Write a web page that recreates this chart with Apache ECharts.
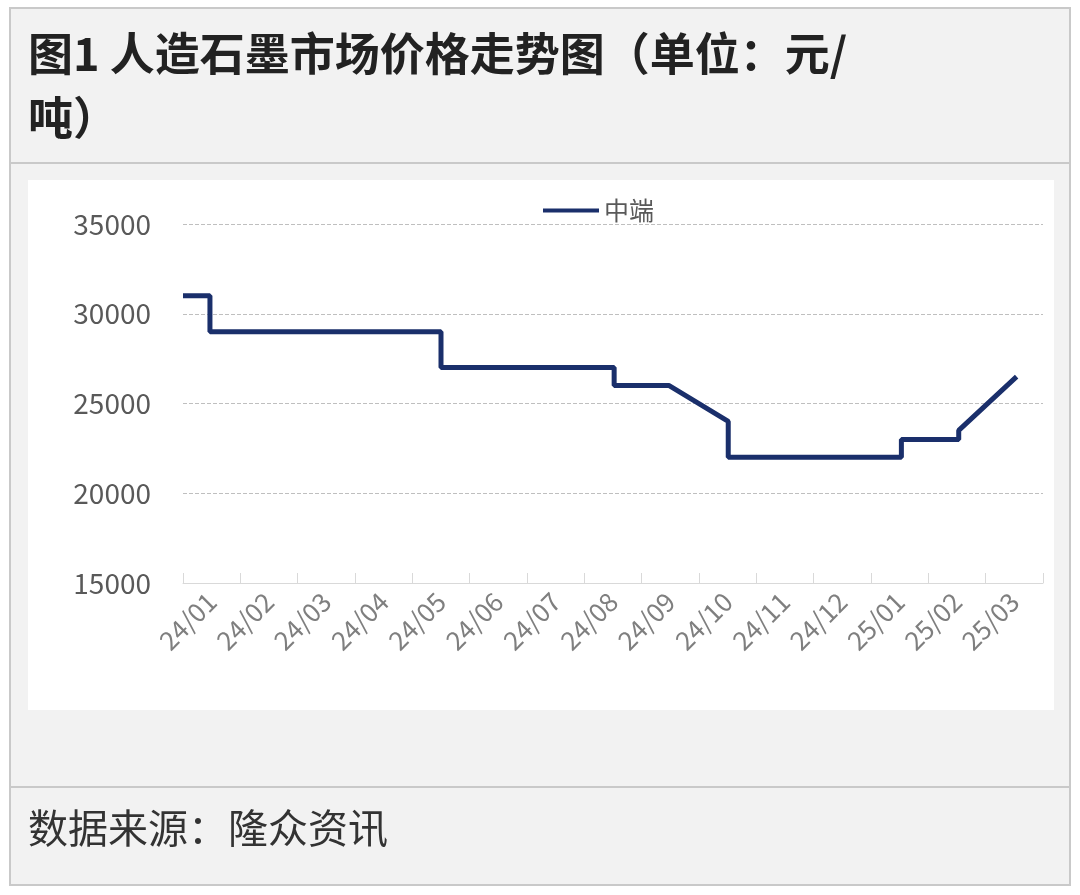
<!DOCTYPE html>
<html><head><meta charset="utf-8">
<script src="https://cdn.jsdelivr.net/npm/echarts@6/dist/echarts.min.js"></script>
<style>html,body{margin:0;padding:0;background:#fff}#c{width:1080px;height:895px}</style>
</head><body><div id="c"></div>
<script>
const monthLabels = ['24/01','24/02','24/03','24/04','24/05','24/06','24/07','24/08','24/09','24/10','24/11','24/12','25/01','25/02','25/03'];
// [month position, price]
const midPrice = [
 [0,31000],[0.47,31000],[0.47,29000],[4.5,29000],[4.5,27000],[7.52,27000],[7.52,26000],
 [8.48,26000],[9.51,24000],[9.51,22000],[12.53,22000],[12.53,23000],[13.53,23000],[13.53,23500],[14.54,26500]
];
const yTicks = [15000,35000,5000];
const chart = echarts.init(document.getElementById('c'));
const F = '"Noto Sans CJK SC","Noto Sans",sans-serif';
chart.setOption({
  animation:false,
  graphic:[
    {type:'rect',z:-10,shape:{x:10,y:8,width:1060,height:877},style:{fill:'#f2f2f2',stroke:'#c9c9c9',lineWidth:2}},
    {type:'line',z:-9,shape:{x1:10,y1:163,x2:1070,y2:163},style:{stroke:'#c9c9c9',lineWidth:2}},
    {type:'line',z:-9,shape:{x1:10,y1:787,x2:1070,y2:787},style:{stroke:'#c9c9c9',lineWidth:2}},
    {type:'rect',z:-8,shape:{x:28,y:180,width:1026,height:530},style:{fill:'#ffffff'}},
    {type:'text',left:28,top:22,style:{text:'图1 人造石墨市场价格走势图（单位：元/\n吨）',font:'bold 45px '+F,fill:'#222',lineHeight:64}},
    {type:'text',left:28,top:808,style:{text:'数据来源：隆众资讯',font:'40px '+F,fill:'#333'}}
  ],
  legend:{top:193,left:538,itemWidth:56,itemHeight:4,itemGap:4,textStyle:{fontSize:25,color:'#595959',fontFamily:F},
    data:[{name:'中端',icon:'rect'}]},
  grid:{left:183,right:37,top:224,bottom:312},
  xAxis:[
    {type:'category',data:monthLabels,boundaryGap:true,
     axisLine:{lineStyle:{color:'#d9d9d9'}},axisTick:{show:true,length:-10,lineStyle:{color:'#d9d9d9'}},
     axisLabel:{rotate:45,fontSize:26,color:'#7f7f7f',fontFamily:F,margin:14,interval:0},splitLine:{show:false}},
    {type:'value',min:0,max:15,show:false}
  ],
  yAxis:{type:'value',min:yTicks[0],max:yTicks[1],interval:yTicks[2],
    axisLine:{show:false},axisTick:{show:false},
    axisLabel:{fontSize:28,color:'#595959',fontFamily:F,margin:32,formatter:v=>String(v)},
    splitLine:{lineStyle:{color:'#bfbfbf',type:'dashed'}}},
  series:[{name:'中端',type:'line',xAxisIndex:1,data:midPrice,symbol:'none',
    lineStyle:{color:'#1a2f6b',width:5},itemStyle:{color:'#1a2f6b'}}]
});
</script></body></html>
